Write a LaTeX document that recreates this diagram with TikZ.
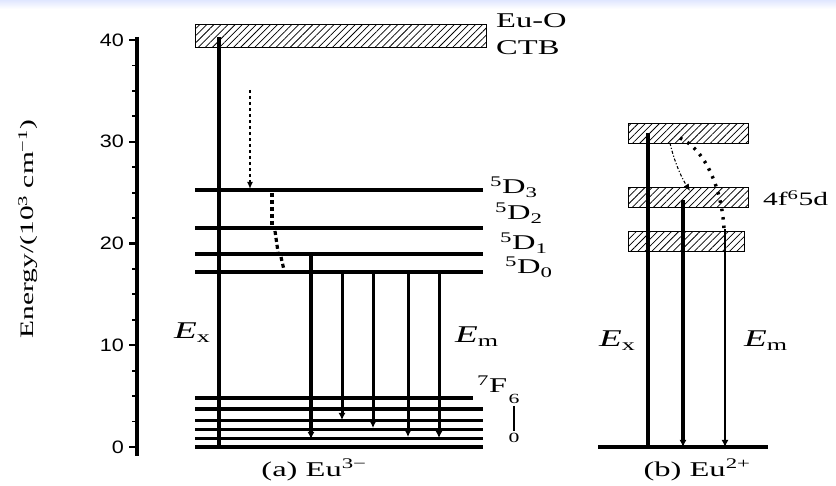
\documentclass[tikz,border=0pt]{standalone}
\usepackage{fontspec}
\setmainfont[FakeStretch=1.55]{Liberation Serif}
\newfontfamily\axisfont[FakeStretch=1.2]{Liberation Sans}
\usetikzlibrary{arrows.meta,patterns.meta}

\tikzstyle{level} = [draw, line width=3.4pt]
\tikzstyle{band} = [rectangle, draw, line width=0.9pt, fill=white, inner sep=0pt,
postaction={pattern={Lines[angle=45,distance=5pt,line width=0.75pt]}}]
\tikzstyle{excite} = [draw, line width=4.4pt]
\tikzstyle{emit} = [draw, line width=3pt, -{Latex[length=7pt,width=7pt]}]
\tikzstyle{decay} = [draw, line width=1.4pt, dashed, -{Latex[length=7pt,width=6pt]}]
\tikzstyle{hop} = [draw, line width=3.2pt, dash pattern=on 4pt off 3pt]
\tikzstyle{txt} = [font=\fontsize{21}{23}\selectfont, inner sep=0pt]
\tikzstyle{elab} = [font=\fontsize{24}{26}\selectfont, inner sep=0pt]
\tikzstyle{small} = [font=\fontsize{14}{15}\selectfont, inner sep=2pt]
\tikzstyle{tick} = [font=\axisfont\fontsize{18}{20}\selectfont, inner sep=0pt]

\begin{document}
\begin{tikzpicture}[x=1pt,y=-1pt]
\useasboundingbox (0,0) rectangle (836,486);
\fill[top color=cyan!20!blue!12, bottom color=white] (0,0) rectangle (836,9);

% Energy axis
\draw[line width=3.4pt] (137,37) -- (137,456);
\foreach \e in {2.5,5,...,37.5}
  \draw[line width=1.8pt] (137,{447-10.175*\e}) -- ++(-5,0);
\foreach \e in {0,10,...,40}
  \draw[line width=2.2pt] (137,{447-10.175*\e}) -- ++(-8,0) node[tick,left=4pt]{\e};
\node[txt,rotate=90,font=\fontsize{19}{21}\selectfont](ylabel) at (28,229) {Energy/(10\textsuperscript{3} cm\textsuperscript{−1})};

% (a) levels
\node[band, minimum width=291pt, minimum height=23pt, anchor=north west](CTB) at (195,24) {};
\node[txt, anchor=base west](CTBlab1) at (496,28) {Eu-O};
\node[txt, anchor=base west](CTBlab2) at (496,55) {CTB};

\draw[level] (195,190) coordinate(D3w) -- (483,190) coordinate(D3e);
\draw[level] (195,228) coordinate(D2w) -- (483,228) coordinate(D2e);
\draw[level] (195,254) coordinate(D1w) -- (483,254) coordinate(D1e);
\draw[level] (195,272) coordinate(D0w) -- (483,272) coordinate(D0e);
\node[txt, anchor=base west](D3lab) at (490,194) {\textsuperscript{5}D\textsubscript{3}};
\node[txt, anchor=base west](D2lab) at (495,220) {\textsuperscript{5}D\textsubscript{2}};
\node[txt, anchor=base west](D1lab) at (500,250) {\textsuperscript{5}D\textsubscript{1}};
\node[txt, anchor=base west](D0lab) at (505,274) {\textsuperscript{5}D\textsubscript{0}};

% ground multiplet
\draw[level] (195,398) -- (473,398);
\draw[level] (195,409) -- (483,409);
\draw[level] (195,420.5) -- (483,420.5);
\draw[level] (195,429.5) -- (483,429.5);
\draw[level] (195,438.5) -- (483,438.5);
\draw[level, line width=4pt] (195,447) -- (483,447);
\node[txt, anchor=base west](F6lab) at (477,393) {\textsuperscript{7}F};
\node[small](F6sub) at (514,399) {6};
\node[small](F0sub) at (514,438) {0};
\draw[line width=1.2pt] (F6sub) -- (F0sub);

% (a) transitions
\coordinate (Exa0) at (219,447);
\coordinate (Exa1) at (219,37);
\path[excite] (Exa0) -- (Exa1);
\path[decay] (250,90) -- (250,189);
\path[hop] (272,193) -- (272,226);
\path[hop] (275,231) -- (278,252);
\path[hop] (281,257) -- (284,270);
\path[emit, line width=4.2pt] (311,254) -- (311,439);
\path[emit] (342,274) -- (342,420);
\path[emit] (373,274) -- (373,428);
\path[emit] (408,274) -- (408,437);
\path[emit] (439,274) -- (439,438);
\node[elab, anchor=base west](Exa) at (174,339) {\textit{E}\textsubscript{x}};
\node[elab, anchor=base west](Ema) at (455,343) {\textit{E}\textsubscript{m}};
\node[txt](capa) at (314,470) {(a) Eu\textsuperscript{3−}};

% (b) 4f65d bands
\node[band, minimum width=120pt, minimum height=20pt, anchor=north west](Btop) at (628,123) {};
\node[band, minimum width=120pt, minimum height=20pt, anchor=north west](Bmid) at (628,187) {};
\node[band, minimum width=116pt, minimum height=20pt, anchor=north west](Bbot) at (628,231) {};
\draw[level, line width=4.4pt] (598,447) coordinate(Gw) -- (768,447) coordinate(Ge);
\node[txt, anchor=base west, font=\fontsize{19}{21}\selectfont](dlab) at (763,206) {4f\textsuperscript{6}5d};

% (b) transitions
\path[excite] (648,447) -- (648,133);
\path[draw, line width=1.1pt, dash dot, -{Latex[length=7pt,width=6pt]}]
  (670,143) .. controls (675,165) and (683,180) .. (690,191);
\path[draw, line width=3.4pt, dash pattern=on 2.5pt off 6pt]
  (680,138) .. controls (706,150) and (722,190) .. (724,229);
\path[emit, line width=3.4pt] (683,200) -- (683,447);
\path[emit, line width=2.4pt] (725,229) -- (725,447);
\node[elab, anchor=base west](Exb) at (599,347) {\textit{E}\textsubscript{x}};
\node[elab, anchor=base west](Emb) at (744,347) {\textit{E}\textsubscript{m}};
\node[txt](capb) at (697,470) {(b) Eu\textsuperscript{2+}};
\end{tikzpicture}
\end{document}
